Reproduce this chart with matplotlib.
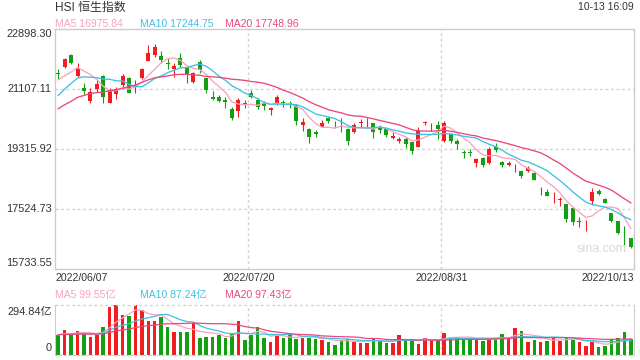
import matplotlib
matplotlib.use('Agg')
import matplotlib.pyplot as plt
import numpy as np
import pandas as pd

plt.rcParams['font.family'] = ['Liberation Sans', 'Noto Sans CJK SC', 'DejaVu Sans']

# ---- data (HSI daily, 2022/06/07 - 2022/10/13) ----
opens = [21570, 21764, 22122, 21504, 21146, 20749, 21098, 21495, 20698, 20949,
         21227, 21444, 21167, 21427, 21952, 22122, 22092, 21892, 21695, 22024,
         21743, 21325, 21922, 21427, 20868, 20868, 20779, 20501, 20459, 20698,
         20979, 20779, 20680, 20480, 20680, 20728, 20689, 20629, 20032, 19913,
         19832, 19982, 20250, 20041, 20003, 19913, 19832, 20101, 19994, 20083,
         19982, 19904, 19635, 19564, 19606, 19516, 19385, 20083, 19964, 20032,
         19564, 19764, 19564, 19235, 19235, 18907, 19038, 18889, 19385, 18919,
         18829, 18680, 18659, 18668, 18608, 18083, 18041, 17784, 17802, 17665,
         17546, 17137, 17008, 17773, 18071, 17823, 17396, 17166, 16698, 16650]
highs = [21704, 22041, 22143, 21892, 21295, 21146, 21376, 21525, 21128, 21176,
         21555, 21474, 21376, 21743, 22421, 22442, 22250, 22041, 21874, 22173,
         21773, 21624, 21973, 21440, 21056, 20928, 20877, 20561, 20829, 20779,
         21077, 20829, 20758, 20561, 20928, 20779, 20758, 20650, 20232, 19930,
         19883, 20182, 20260, 20152, 20232, 19930, 20083, 20203, 20232, 20101,
         20032, 19982, 19832, 19683, 19683, 19530, 19964, 20161, 20083, 20152,
         20152, 19803, 19606, 19286, 19307, 19038, 19068, 19385, 19486, 18967,
         18967, 18868, 18670, 18808, 18620, 18173, 18113, 18041, 17874, 17680,
         17576, 17295, 17196, 18143, 18113, 17862, 17414, 17180, 17017, 16668]
lows = [21406, 21725, 21853, 21474, 20958, 20698, 21026, 20680, 20680, 20817,
        21176, 20979, 20997, 21397, 21930, 22071, 21874, 21695, 21474, 21773,
        21277, 21277, 21594, 20979, 20779, 20728, 20531, 20182, 20280, 20531,
        20829, 20501, 20480, 20331, 20629, 20561, 20531, 20032, 19862, 19504,
        19665, 19964, 20083, 19934, 19832, 19435, 19785, 19982, 19982, 19635,
        19785, 19665, 19605, 19486, 19337, 19167, 19370, 20032, 19862, 19606,
        19534, 19504, 19316, 19056, 19116, 18788, 18788, 18870, 19235, 18770,
        18808, 18638, 18459, 18638, 18380, 17943, 17900, 17713, 17614, 17146,
        17047, 16996, 16877, 17644, 17943, 17695, 17146, 16778, 16450, 16370]
closes = [21540, 22003, 21874, 21743, 21056, 21026, 21256, 20859, 21047, 21107,
          21495, 20997, 21227, 21695, 22173, 22370, 21972, 21844, 21803, 21824,
          21555, 21594, 21674, 21077, 20800, 20758, 20728, 20232, 20779, 20668,
          20859, 20561, 20600, 20531, 20877, 20680, 20668, 20161, 20131, 19665,
          19755, 20101, 20161, 20023, 19973, 19564, 20032, 20131, 20012, 19832,
          19883, 19734, 19704, 19615, 19465, 19265, 19883, 20131, 19982, 19904,
          20101, 19564, 19456, 19205, 19196, 19008, 18838, 19316, 19286, 18838,
          18889, 18698, 18519, 18740, 18390, 18101, 17913, 17802, 17823, 17217,
          17146, 17158, 17026, 18041, 17972, 17713, 17166, 16799, 16680, 16381]
# closes before the window, needed for the moving averages at the left edge
prior_closes = [19633, 19824, 19380, 19898, 19950, 20602, 20644, 20121, 20717, 20470,
                20112, 20171, 20116, 20697, 21123, 21415, 21294, 21082, 21575]

# turnover, 亿
volume = [115, 150, 125, 144, 131, 109, 119, 168, 283, 292,
          234, 228, 294.84, 267, 198, 198, 222, 168, 133, 133,
          133, 190, 103, 109, 109, 115, 103, 125, 198, 91,
          115, 168, 103, 79, 115, 103, 125, 97, 103, 103,
          97, 91, 79, 61, 91, 95, 79, 73, 73, 103,
          91, 73, 73, 115, 91, 97, 67, 103, 91, 91,
          127, 103, 109, 97, 91, 97, 85, 97, 97, 121,
          103, 162, 139, 79, 91, 79, 85, 103, 85, 103,
          91, 79, 55, 79, 49, 55, 97, 103, 133, 97]
prior_volume = [118, 125, 110, 130, 122, 115, 128, 120, 112, 126,
                119, 124, 117, 121, 127, 113, 123, 120, 118]

price_ticks = [22898.30, 21107.11, 19315.92, 17524.73, 15733.55]
vol_ticks = ['294.84亿', '0']
date_labels = ['2022/06/07', '2022/07/20', '2022/08/31', '2022/10/13']

UP = '#f01e1e'
DOWN = '#12a012'
MA_COLORS = ['#f7a3c0', '#3fc1e3', '#e9487f']
GRID = '#d2d2d2'
TXT = '#333333'

n = len(closes)
x = np.arange(n)
o = np.array(opens, float)
h = np.array(highs, float)
l = np.array(lows, float)
c = np.array(closes, float)
up = c >= o
col = np.where(up, UP, DOWN)

all_c = pd.Series(prior_closes + closes)
ma_p = {w: all_c.rolling(w).mean().to_numpy()[len(prior_closes):] for w in (5, 10, 20)}
all_v = pd.Series(prior_volume + volume)
ma_v = {w: all_v.rolling(w).mean().to_numpy()[len(prior_volume):] for w in (5, 10, 20)}

W, H = 640, 360
fig = plt.figure(figsize=(6.4, 3.6), dpi=100)


def fx(px):
    return px / W


def fy(py):
    return 1 - py / H


ax = fig.add_axes([fx(55), fy(269), 579 / W, 240 / H])
axv = fig.add_axes([fx(55), fy(355), 579 / W, 50 / H])

# main price panel
ax.set_xlim(-0.5, n - 0.5)
ax.set_ylim(price_ticks[-1], price_ticks[0])
for lv in price_ticks[1:-1]:
    ax.axhline(lv, color=GRID, lw=1, ls=(0, (2, 2)), zorder=0)
for gx in (29.5, 59.5):
    ax.axvline(gx, color=GRID, lw=1, ls=(0, (2, 2)), zorder=0)
    axv.axvline(gx, color=GRID, lw=1, ls=(0, (2, 2)), zorder=0)

ax.vlines(x, l, h, colors=col, lw=0.8, zorder=2)
body = np.maximum(np.abs(c - o), 22)
ax.bar(x, body, bottom=np.minimum(o, c), width=0.62, color=col, lw=0, zorder=3)
for w, mc in zip((5, 10, 20), MA_COLORS):
    ax.plot(x, ma_p[w], color=mc, lw=0.95, zorder=4)

for sp in ax.spines.values():
    sp.set_color('#cccccc')
    sp.set_linewidth(1)
ax.set_xticks([])
ax.set_yticks([])

# volume panel
axv.set_xlim(-0.5, n - 0.5)
axv.set_ylim(0, max(volume))
axv.bar(x, volume, width=0.55, color=col, lw=0, zorder=2)
for w, mc in zip((5, 10, 20), MA_COLORS):
    axv.plot(x, ma_v[w], color=mc, lw=0.9, zorder=3)
axv.axhline(max(volume), color=GRID, lw=1, ls=(0, (2, 2)), clip_on=False)
axv.spines['top'].set_visible(False)
for s in ('left', 'right', 'bottom'):
    axv.spines[s].set_color('#cccccc')
axv.spines['bottom'].set_linestyle((0, (2, 2)))
axv.set_xticks([])
axv.set_yticks([])

# header texts
fig.text(fx(55), fy(8), 'HSI 恒生指数', fontsize=8.6, color=TXT, va='center', ha='left')
fig.text(fx(634), fy(7.5), '10-13 16:09', fontsize=7.5, color=TXT, va='center', ha='right')
ma_vals = ['MA5 16975.84', 'MA10 17244.75', 'MA20 17748.96']
for txt, mc, px in zip(ma_vals, MA_COLORS, (55, 140, 225)):
    fig.text(fx(px), fy(24), txt, fontsize=7.5, color=mc, va='center', ha='left')

# price axis labels
lab_y = [34, 89, 149, 209, 263]
for v, py in zip(price_ticks, lab_y):
    fig.text(fx(52), fy(py), f'{v:.2f}', fontsize=7.9, color=TXT, va='center', ha='right')

# date labels
date_x = [(55, 'left'), (248.5, 'center'), (441.5, 'center'), (634, 'right')]
for txt, (px, ha) in zip(date_labels, date_x):
    fig.text(fx(px), fy(278), txt, fontsize=7.6, color=TXT, va='center', ha=ha)

# volume legend and labels
vma_vals = ['MA5 99.55亿', 'MA10 87.24亿', 'MA20 97.43亿']
for txt, mc, px in zip(vma_vals, MA_COLORS, (55, 140, 225)):
    fig.text(fx(px), fy(295), txt, fontsize=7.5, color=mc, va='center', ha='left')
fig.text(fx(52), fy(312), vol_ticks[0], fontsize=7.9, color=TXT, va='center', ha='right')
fig.text(fx(52), fy(348), vol_ticks[1], fontsize=7.9, color=TXT, va='center', ha='right')

fig.text(fx(602), fy(249), 'sina.com', fontsize=9, color='#d9d9d9', va='center', ha='center')

fig.savefig('out.png', dpi=100)
